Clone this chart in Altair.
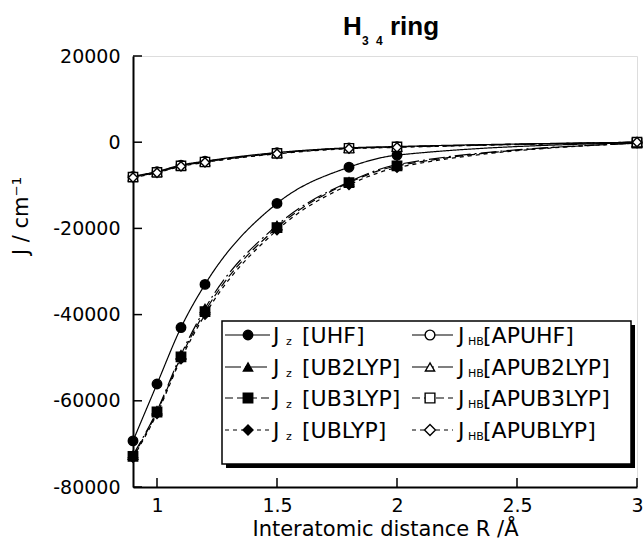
import altair as alt
import pandas as pd

# ---------------- data ----------------
R = [0.9, 1.0, 1.1, 1.2, 1.5, 1.8, 2.0, 3.0]
J_UHF = [-69300, -56100, -43000, -33000, -14200, -5800, -3000, -100]
J_UB2LYP = [-72600, -62300, -49300, -38600, -19300, -9200, -5200, -200]
J_UB3LYP = [-72900, -62600, -49800, -39300, -19800, -9400, -5500, -200]
J_UBLYP = [-73200, -63000, -50300, -40000, -20400, -9900, -5900, -200]
JHB_APUHF = [-7900, -6800, -5300, -4400, -2400, -1300, -1000, 0]
JHB_APUB2LYP = [-8000, -6900, -5400, -4500, -2500, -1400, -1100, 0]
JHB_APUB3LYP = [-8100, -7000, -5500, -4600, -2600, -1400, -1100, 0]
JHB_APUBLYP = [-8200, -7100, -5600, -4700, -2700, -1500, -1200, 0]

series = ["Jz UHF", "Jz UB2LYP", "Jz UB3LYP", "Jz UBLYP",
          "JHB APUHF", "JHB APUB2LYP", "JHB APUB3LYP", "JHB APUBLYP"]
series_values = [J_UHF, J_UB2LYP, J_UB3LYP, J_UBLYP,
                 JHB_APUHF, JHB_APUB2LYP, JHB_APUB3LYP, JHB_APUBLYP]
legend_sub = ["z", "z", "z", "z", "HB", "HB", "HB", "HB"]
legend_bracket = ["[UHF]", "[UB2LYP]", "[UB3LYP]", "[UBLYP]",
                  "[APUHF]", "[APUB2LYP]", "[APUB3LYP]", "[APUBLYP]"]

x_ticks = [1, 1.5, 2, 2.5, 3]
y_ticks = [-80000, -60000, -40000, -20000, 0, 20000]

# ---------------- styles ----------------
shapes = ["circle", "triangle-up", "square", "diamond"] * 2
fills = ["black"] * 4 + ["white"] * 4
dashes = [[1, 0], [16, 4, 2, 4], [8, 4], [4, 4]] * 2
sizes = [90, 85, 90, 100, 95, 85, 95, 120]

FONT = "DejaVu Sans"
W, H = 504, 431

rows = []
for s, vals in zip(series, series_values):
    for r, j in zip(R, vals):
        rows.append({"series": s, "R": r, "J": j})
df = pd.DataFrame(rows)

xscale = alt.Scale(domain=[0.9, 3.0], nice=False, zero=False)
yscale = alt.Scale(domain=[-80000, 20000], nice=False, zero=False)

xaxis = alt.Axis(values=x_ticks, labelExpr="'' + datum.value", tickSize=0,
                 labelPadding=9, labelFontSize=19, labelFont=FONT,
                 labelColor="black", domainColor="black", domainWidth=2,
                 grid=False, labelFlush=False,
                 title="Interatomic distance R /Å", titleFont=FONT,
                 titleFontSize=21, titleFontWeight="normal",
                 titleColor="black", titlePadding=3)
yaxis = alt.Axis(values=y_ticks, labelExpr="'' + datum.value", tickSize=0,
                 labelPadding=13, labelFontSize=19, labelFont=FONT,
                 labelColor="black", domainColor="black", domainWidth=2,
                 grid=False, labelFlush=False, title=None)

X = alt.X("R:Q", scale=xscale, axis=xaxis)
Y = alt.Y("J:Q", scale=yscale, axis=yaxis)

lines = alt.Chart(df).mark_line(interpolate="monotone", color="black",
                                strokeWidth=1.2).encode(
    x=X, y=Y, detail="series:N",
    strokeDash=alt.StrokeDash("series:N", scale=alt.Scale(domain=series, range=dashes),
                              legend=None),
)

points = alt.Chart(df).mark_point(filled=True, stroke="black", strokeWidth=1.4,
                                  opacity=1).encode(
    x=X, y=Y,
    shape=alt.Shape("series:N", scale=alt.Scale(domain=series, range=shapes), legend=None),
    fill=alt.Fill("series:N", scale=alt.Scale(domain=series, range=fills), legend=None),
    size=alt.Size("series:N", scale=alt.Scale(domain=series, range=sizes), legend=None),
)

# inward ticks
ytick_df = pd.DataFrame({"J": y_ticks})
xtick_df = pd.DataFrame({"R": x_ticks})
yticks = alt.Chart(ytick_df).mark_rule(color="black", strokeWidth=1.5).encode(
    y=Y, x=alt.value(0), x2=alt.value(9))
xticks = alt.Chart(xtick_df).mark_rule(color="black", strokeWidth=1.5).encode(
    x=X, y=alt.value(H), y2=alt.value(H - 9))

one = pd.DataFrame({"k": [0]})

def txt(text, x, y, size, weight="normal", align="left", baseline="alphabetic",
        angle=0, font=FONT):
    kw = dict(align=align, baseline=baseline, fontSize=size, fontWeight=weight,
              font=font, color="black")
    if angle:
        kw["angle"] = angle
    return alt.Chart(one).mark_text(**kw).encode(
        x=alt.value(x), y=alt.value(y), text=alt.value(text))

layers = [lines, points, yticks, xticks]

# title
layers += [
    txt("H", 210, -21, 26, "bold", font="Liberation Sans"),
    txt("3", 229, -11, 12, "bold", font="Liberation Sans"),
    txt("4", 243, -11, 12, "bold", font="Liberation Sans"),
    txt("ring", 257, -21, 26, "bold", font="Liberation Sans"),
]

# y axis title (rotated)
layers += [txt("J  / cm⁻¹", -111, 160, 21, align="center", baseline="middle", angle=270)]

# legend box with shadow
layers += [
    alt.Chart(one).mark_rect(color="black").encode(
        x=alt.value(93), x2=alt.value(502), y=alt.value(269), y2=alt.value(412)),
    alt.Chart(one).mark_rect(fill="white", stroke="black", strokeWidth=1.5).encode(
        x=alt.value(89), x2=alt.value(498), y=alt.value(265), y2=alt.value(408)),
]

row_y = [279, 311, 342, 374]
col_line = [(92, 137), (279, 320)]
col_sym = [115, 297]
col_J = [140, 325]
col_sub = [153, 335]
col_br = [169, 350]

for i, s in enumerate(series):
    c, r = i // 4, i % 4
    yy = row_y[r]
    layers.append(alt.Chart(one).mark_rule(color="black", strokeWidth=1.2,
                                           strokeDash=dashes[i]).encode(
        x=alt.value(col_line[c][0]), x2=alt.value(col_line[c][1]),
        y=alt.value(yy)))
    layers.append(alt.Chart(one).mark_point(filled=True, stroke="black",
                                            strokeWidth=1.4, opacity=1,
                                            shape=shapes[i], size=sizes[i],
                                            fill=fills[i]).encode(
        x=alt.value(col_sym[c]), y=alt.value(yy)))
    layers.append(txt("J", col_J[c], yy + 8, 22))
    layers.append(txt(legend_sub[i], col_sub[c], yy + 10, 11))
    layers.append(txt(legend_bracket[i], col_br[c], yy + 8, 22))

chart = alt.layer(*layers).properties(
    width=W, height=H,
    autosize=alt.AutoSizeParams(type="none"),
    padding={"left": 133, "top": 56, "right": 7, "bottom": 56},
).configure_view(stroke="black", strokeWidth=1.5).configure(background="white")

chart.save("out.html", embed_options={"renderer": "svg", "actions": False})
